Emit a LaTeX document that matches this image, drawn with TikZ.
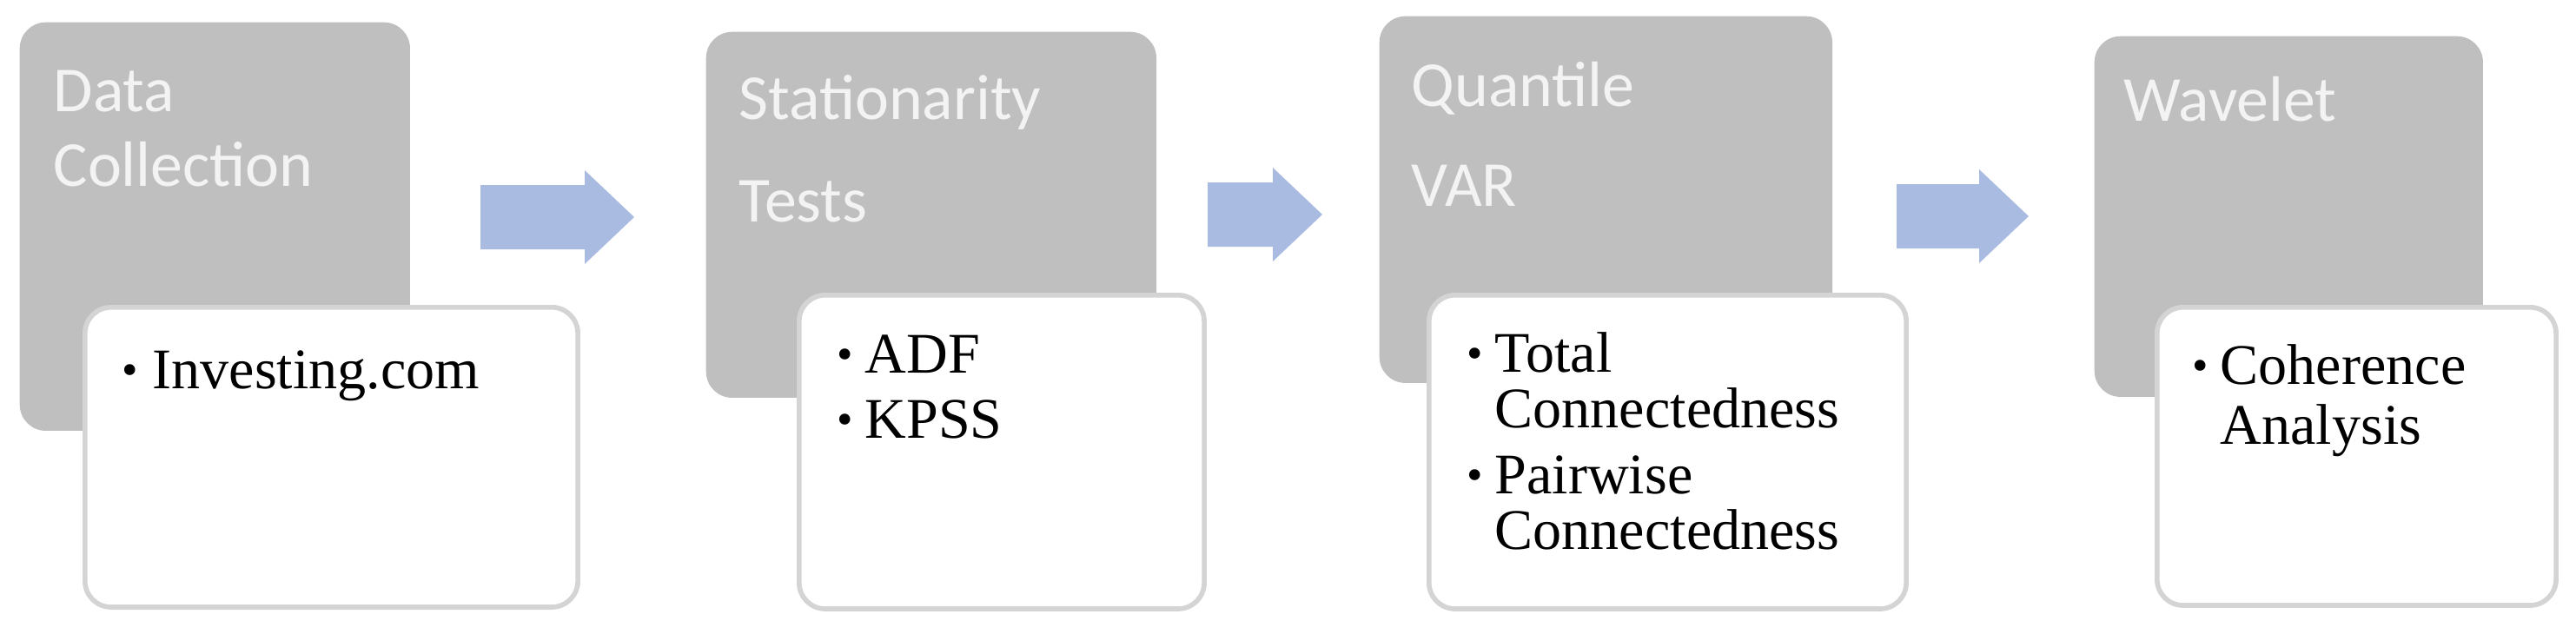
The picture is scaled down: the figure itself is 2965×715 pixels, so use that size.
\documentclass[tikz,border=0pt]{standalone}
\usepackage{fontspec}
\setmainfont{Liberation Serif}
\newfontfamily\titlefont{Carlito}
\definecolor{boxgray}{RGB}{191,191,191}
\definecolor{titlecol}{RGB}{243,243,243}
\definecolor{edgegray}{RGB}{212,212,212}
\definecolor{arrowblue}{RGB}{170,187,225}
\begin{document}
\begin{tikzpicture}[x=0.01cm,y=-0.01cm,
  graybox/.style={fill=boxgray, rounded corners=0.3cm, inner sep=0pt, anchor=north west},
  whitebox/.style={fill=white, draw=edgegray, line width=1.6pt, rounded corners=0.3cm, inner sep=0pt, anchor=north west},
  titletext/.style={anchor=base west, inner sep=0pt, text=titlecol, font=\titlefont\fontsize{21}{25}\selectfont},
  itemtext/.style={anchor=base west, inner sep=0pt, text=black, font=\fontsize{18.8}{22}\selectfont},
  bullettext/.style={anchor=base west, inner sep=0pt, text=black, font=\fontsize{15}{18}\selectfont},
  blockarrow/.style={fill=arrowblue}]
\useasboundingbox (0,0) rectangle (2965,715);

% gray boxes
\node[graybox, minimum width=4.49cm, minimum height=4.70cm] (g1) at (22,25) {};
\node[graybox, minimum width=5.18cm, minimum height=4.21cm] (g2) at (812,36) {};
\node[graybox, minimum width=5.21cm, minimum height=4.22cm] (g3) at (1587,18) {};
\node[graybox, minimum width=4.47cm, minimum height=4.15cm] (g4) at (2410,41) {};

% titles
\node[titletext] (t1a) at (61,128) {Data};
\node[titletext] (t1b) at (61,214) {Collection};
\node[titletext] (t2a) at (850,137) {Stationarity};
\node[titletext] (t2b) at (850,255) {Tests};
\node[titletext] (t3a) at (1624,123) {Quantile};
\node[titletext] (t3b) at (1624,237) {VAR};
\node[titletext] (t4a) at (2444,139) {Wavelet};

% white boxes
\node[whitebox, minimum width=5.67cm, minimum height=3.45cm] (w1) at (95,351) {};
\node[whitebox, minimum width=4.66cm, minimum height=3.61cm] (w2) at (917,337) {};
\node[whitebox, minimum width=5.49cm, minimum height=3.61cm] (w3) at (1642,337) {};
\node[whitebox, minimum width=4.59cm, minimum height=3.43cm] (w4) at (2480,351) {};

% items
\node[bullettext] (b1a) at (140,443) {•};
\node[itemtext] (i1a) at (175,447) {Investing.com};

\node[bullettext] (b2a) at (963,425) {•};
\node[itemtext] (i2a) at (995,429) {ADF};
\node[bullettext] (b2b) at (963,500) {•};
\node[itemtext] (i2b) at (995,504) {KPSS};

\node[bullettext] (b3a) at (1688,424) {•};
\node[itemtext] (i3a) at (1720,428) {Total};
\node[itemtext] (i3b) at (1720,492) {Connectedness};
\node[bullettext] (b3c) at (1688,564) {•};
\node[itemtext] (i3c) at (1720,568) {Pairwise};
\node[itemtext] (i3d) at (1720,632) {Connectedness};

\node[bullettext] (b4a) at (2523,438) {•};
\node[itemtext] (i4a) at (2555,442) {Coherence};
\node[itemtext] (i4b) at (2555,511) {Analysis};

% block arrows
\fill[blockarrow] (553,213) -- (673,213) -- (673,196) -- (730,250) -- (673,304) -- (673,287) -- (553,287) -- cycle;
\fill[blockarrow] (1390,210) -- (1465,210) -- (1465,193) -- (1522,247) -- (1465,301) -- (1465,284) -- (1390,284) -- cycle;
\fill[blockarrow] (2183,212) -- (2278,212) -- (2278,195) -- (2335,249) -- (2278,303) -- (2278,286) -- (2183,286) -- cycle;
\end{tikzpicture}
\end{document}
